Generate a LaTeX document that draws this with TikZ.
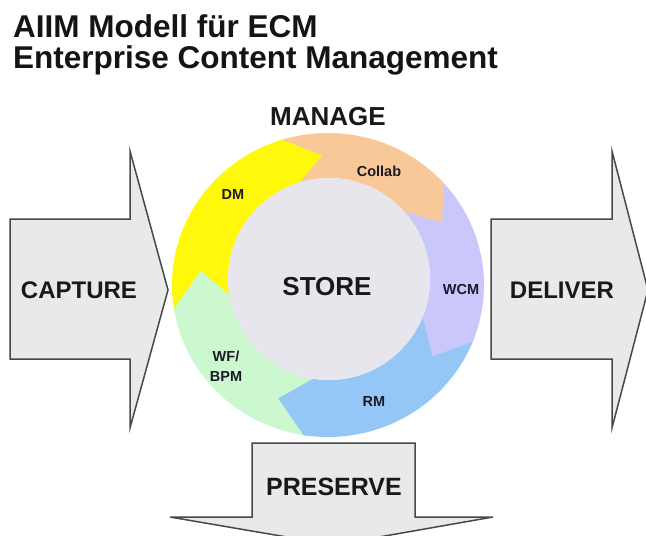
\documentclass[tikz,border=0pt]{standalone}
\usepackage{fontspec}
\setmainfont{Liberation Sans}
\usetikzlibrary{calc}

% colours of the ring and the block arrows
\definecolor{ringyellow}{RGB}{255,248,10}
\definecolor{ringorange}{RGB}{249,200,152}
\definecolor{ringviolet}{RGB}{202,200,250}
\definecolor{ringblue}{RGB}{148,198,246}
\definecolor{ringgreen}{RGB}{204,248,208}
\definecolor{storegray}{RGB}{230,230,236}
\definecolor{blockfill}{RGB}{233,233,233}
\definecolor{blockline}{RGB}{72,72,72}
\definecolor{labeldark}{RGB}{26,26,40}

% body of one curved ring arrow: colour, tail angle, tip angle, head length
\newcommand\ringbody[4]{%
  \pgfmathsetmacro\hb{#3+#4}%
  \fill[#1] plot[domain=#2:\hb, samples=60] ({328+156*cos(\x)},{285-152*sin(\x)})
    -- plot[domain=\hb:#2, samples=60] ({329+101*cos(\x)},{279-101*sin(\x)}) -- cycle;
}
% pointed head of one ring arrow: colour, tip angle, head length
\newcommand\ringhead[3]{%
  \pgfmathsetmacro\hb{#2+#3}%
  \pgfmathsetmacro\hc{#2+#3+2}%
  \fill[#1] ({328+156*cos(\hc)},{285-152*sin(\hc)})
    -- ({328+156*cos(\hb)},{285-152*sin(\hb)})
    -- ({328.5+128.5*cos(#2)},{282-126.5*sin(#2)})
    -- ({329+101*cos(\hb)},{279-101*sin(\hb)})
    -- ({329+101*cos(\hc)},{279-101*sin(\hc)}) -- cycle;
}

\tikzset{
  title/.style={anchor=base west, inner sep=0, font=\bfseries\fontsize{31.5}{31}\selectfont, text=black!92},
  blockarrow/.style={fill=blockfill, draw=blockline, line width=1.5pt, line join=miter},
  blocklabel/.style={inner sep=0, font=\bfseries\fontsize{24}{24}\selectfont, text=black!90},
  ringlabel/.style={inner sep=0, font=\bfseries\fontsize{14.5}{20}\selectfont, text=labeldark, align=center},
  corelabel/.style={inner sep=0, font=\bfseries\fontsize{26}{26}\selectfont, text=black!90},
}

\begin{document}
\begin{tikzpicture}[x=1pt, y=-1pt]
  \useasboundingbox (0,0) rectangle (646,536);
  \fill[white] (0,0) rectangle (646,536);
  \clip (0,0) rectangle (646,536);

  % heading
  \node[title] (t1) at (13,37) {AIIM Modell für ECM};
  \node[title] (t2) at (13,68) {Enterprise Content Management};

  % block arrows
  \draw[blockarrow] (10,219) -- (130,219) -- (130,151) -- (168,290) -- (130,428) -- (130,359) -- (10,359) -- cycle;
  \draw[blockarrow] (491,219) -- (612,219) -- (612,151) -- (648,290) -- (612,428) -- (612,359) -- (491,359) -- cycle;
  \draw[blockarrow] (252,517) -- (252,443) -- (415,443) -- (415,517) -- (493,517) -- (333.5,545) -- (170,517) -- cycle;

  % ring of five curved arrows, running clockwise
  \ringbody{ringyellow}{189}{93}{14}
  \ringbody{ringorange}{107}{28}{14}
  \ringbody{ringviolet}{42}{-36}{14}
  \ringbody{ringblue}{-22}{-113}{14}
  \ringbody{ringgreen}{-99}{-185}{14}
  \ringhead{ringyellow}{93}{14}
  \ringhead{ringorange}{28}{14}
  \ringhead{ringviolet}{-36}{14}
  \ringhead{ringblue}{-113}{14}
  \ringhead{ringgreen}{-185}{14}

  % central store
  \fill[storegray] (329,279) circle[radius=101];

  % labels
  \node[corelabel] (manage) at (328,117) {MANAGE};
  \node[corelabel] (store) at (327,287) {STORE};
  \node[ringlabel] (dm) at (233,195) {DM};
  \node[ringlabel] (collab) at (379,171) {Collab};
  \node[ringlabel] (wcm) at (461,290) {WCM};
  \node[ringlabel] (rm) at (374,402) {RM};
  \node[ringlabel] (wf) at (226,366) {WF/\\BPM};
  \node[blocklabel] (capture) at (79,290) {CAPTURE};
  \node[blocklabel] (deliver) at (562,290) {DELIVER};
  \node[blocklabel, font=\bfseries\fontsize{25}{25}\selectfont] (preserve) at (334,487) {PRESERVE};
\end{tikzpicture}
\end{document}
